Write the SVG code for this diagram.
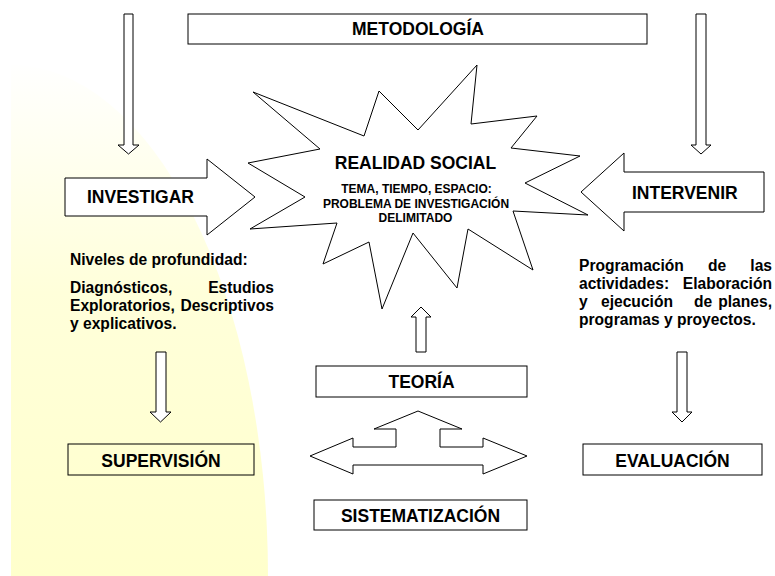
<svg xmlns="http://www.w3.org/2000/svg" width="775" height="576" viewBox="0 0 775 576">
  <defs>
    <linearGradient id="bgYellow" gradientUnits="userSpaceOnUse" x1="0" y1="60" x2="0" y2="576">
      <stop offset="0" stop-color="#FFFFFF"/>
      <stop offset="0.45" stop-color="#FFFFDA"/>
      <stop offset="1" stop-color="#FFFFCC"/>
    </linearGradient>
    <style>
      .box { fill: #FFFFFF; stroke: #000000; stroke-width: 1; }
      .boxclear { fill: none; stroke: #000000; stroke-width: 1; }
      .blk { fill: #FFFFFF; stroke: #000000; stroke-width: 1; stroke-linejoin: miter; }
      .lbl { font-family: "Liberation Sans", Arial, Helvetica, sans-serif; font-weight: bold; font-size: 17.5px; fill: #000000; }
      .small { font-family: "Liberation Sans", Arial, Helvetica, sans-serif; font-weight: bold; font-size: 12px; fill: #000000; }
      .body { font-family: "Liberation Sans", Arial, Helvetica, sans-serif; font-weight: bold; font-size: 15.6px; fill: #000000; }
      .mid { text-anchor: middle; }
      .end { text-anchor: end; }
    </style>
  </defs>

  <rect x="0" y="0" width="775" height="576" fill="#FFFFFF"/>
  <path d="M11,576 L11,65 A257,511 0 0 1 268,576 Z" fill="url(#bgYellow)"/>

  <g id="connectors">
    <polygon class="blk" points="124,14 133,14 133,145 139,145 128.5,154 118,145 124,145"/>
    <polygon class="blk" points="696,14 706,14 706,145 711,145 701,154 691,145 696,145"/>
    <polygon class="blk" points="156,352 166,352 166,412 171,412 160.5,422 150,412 156,412"/>
    <polygon class="blk" points="677,352 687,352 687,412 692,412 682,422 672,412 677,412"/>
    <polygon class="blk" points="416,352 426,352 426,317 431,317 421,307 411,317 416,317"/>
    <polygon class="blk" points="418,411 462,429 440,429 440,447 483,447 483,438 527,456 483,474 483,465 353,465 353,474 310,456 353,438 353,447 396,447 396,429 374,429"/>
  </g>

  <g id="metodologia">
    <rect class="box" x="188" y="14" width="459" height="30"/>
    <text class="lbl mid" x="418" y="35">METODOLOGÍA</text>
  </g>

  <g id="realidad-social">
    <polygon class="blk" points="253,92 364,136 379,91 418,130 477,65 471,124 537,116 511,148 580,156 525,183 588,215 513,211 533,270 468,229 457,288 413,233 382,309 369,242 323,264 337,223 250,229 305,197 248,163 320,149"/>
    <text class="lbl mid" x="415.5" y="169">REALIDAD SOCIAL</text>
    <text class="small mid" x="416.5" y="193">TEMA, TIEMPO, ESPACIO:</text>
    <text class="small mid" x="416" y="207.5">PROBLEMA DE INVESTIGACIÓN</text>
    <text class="small mid" x="415.5" y="222">DELIMITADO</text>
  </g>

  <g id="investigar">
    <polygon class="blk" points="65,178 207,178 207,159 255,197 207,235 207,216 65,216"/>
    <text class="lbl" x="87" y="203">INVESTIGAR</text>
  </g>

  <g id="intervenir">
    <polygon class="blk" points="764,172 624,172 624,153 581,192 624,231 624,212 764,212"/>
    <text class="lbl" x="632" y="199">INTERVENIR</text>
  </g>

  <g id="niveles-texto">
    <text class="body" x="70" y="265">Niveles de profundidad:</text>
    <text class="body" x="70" y="293">Diagnósticos,</text>
    <text class="body end" x="274" y="293">Estudios</text>
    <text class="body" x="70" y="311">Exploratorios,</text>
    <text class="body end" x="274" y="311">Descriptivos</text>
    <text class="body" x="70" y="329">y explicativos.</text>
  </g>

  <g id="programacion-texto">
    <text class="body" x="579" y="271">Programación</text>
    <text class="body" x="708" y="271">de</text>
    <text class="body end" x="772" y="271">las</text>
    <text class="body" x="579" y="289">actividades:</text>
    <text class="body end" x="772" y="289">Elaboración</text>
    <text class="body" x="579" y="307">y</text>
    <text class="body" x="601" y="307">ejecución</text>
    <text class="body" x="694" y="307">de</text>
    <text class="body end" x="772" y="307">planes,</text>
    <text class="body" x="579" y="325">programas y proyectos.</text>
  </g>

  <g id="teoria">
    <rect class="box" x="316" y="366" width="211" height="31"/>
    <text class="lbl mid" x="421.5" y="388">TEORÍA</text>
  </g>

  <g id="sistematizacion">
    <rect class="box" x="314" y="500" width="213" height="30"/>
    <text class="lbl mid" x="420.5" y="522">SISTEMATIZACIÓN</text>
  </g>

  <g id="supervision">
    <rect class="boxclear" x="68" y="444" width="186" height="31"/>
    <text class="lbl mid" x="161" y="467">SUPERVISIÓN</text>
  </g>

  <g id="evaluacion">
    <rect class="box" x="583" y="444" width="179" height="31"/>
    <text class="lbl mid" x="672.5" y="467">EVALUACIÓN</text>
  </g>
</svg>
